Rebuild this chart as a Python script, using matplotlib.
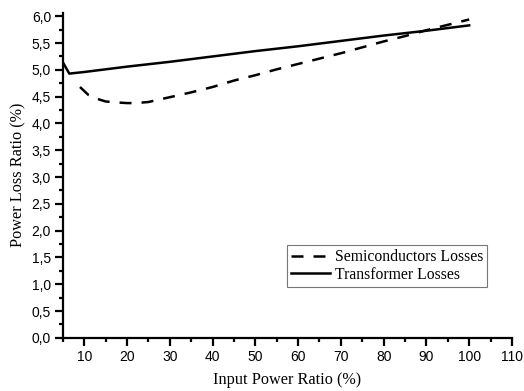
import matplotlib
matplotlib.use("Agg")
import matplotlib.pyplot as plt
from matplotlib.ticker import MultipleLocator, FuncFormatter

# --------------DATA--------------
semi_x = [9, 11, 13, 15, 18, 20, 22, 25, 30, 35, 40, 45, 50, 55, 60,
          65, 70, 75, 80, 85, 90, 95, 100]
semi_loss = [4.68, 4.53, 4.46, 4.41, 4.39, 4.38, 4.38, 4.40, 4.49, 4.58, 4.68,
             4.80, 4.90, 5.01, 5.11, 5.21, 5.31, 5.42, 5.53, 5.63, 5.74,
             5.84, 5.94]

trafo_x = [5, 6.5, 10, 20, 30, 40, 50, 60, 70, 80, 90, 100]
trafo_loss = [5.14, 4.93, 4.96, 5.06, 5.15, 5.25, 5.35, 5.44, 5.54, 5.64,
              5.73, 5.83]

serif = "Liberation Serif"
sans = "Liberation Sans"

fig = plt.figure(figsize=(5.24, 3.91), dpi=100)
ax = fig.add_axes([0.120, 0.136, 0.857, 0.832])

ax.plot(semi_x, semi_loss, color="black", lw=1.8, linestyle=(0, (4.8, 4)),
        label="Semiconductors Losses")
ax.plot(trafo_x, trafo_loss, color="black", lw=1.8, label="Transformer Losses")

ax.set_xlim(5, 110)
ax.set_ylim(0, 6.07)

ax.xaxis.set_major_locator(MultipleLocator(10))
ax.xaxis.set_minor_locator(MultipleLocator(5))
ax.yaxis.set_major_locator(MultipleLocator(0.5))
ax.yaxis.set_minor_locator(MultipleLocator(0.25))
ax.set_xticks(range(10, 111, 10))
ax.yaxis.set_major_formatter(FuncFormatter(lambda v, p: f"{v:.1f}".replace(".", ",")))

for s in ["top", "right"]:
    ax.spines[s].set_visible(False)
for s in ["left", "bottom"]:
    ax.spines[s].set_linewidth(1.6)

ax.tick_params(which="major", direction="out", length=5.5, width=1.6,
               labelsize=10, pad=3)
ax.tick_params(which="minor", direction="out", length=3, width=1.6)
for lab in ax.get_xticklabels() + ax.get_yticklabels():
    lab.set_fontfamily(sans)

ax.set_xlabel("Input Power Ratio (%)", fontsize=11.7, family=serif, labelpad=6)
ax.set_ylabel("Power Loss Ratio (%)", fontsize=11.7, family=serif, labelpad=4)

leg = ax.legend(loc="lower right", bbox_to_anchor=(0.944, 0.157),
                prop={"family": serif, "size": 11.3}, frameon=True, fancybox=False,
                handlelength=2.45, handletextpad=0.3, borderpad=0.25,
                labelspacing=0.1, borderaxespad=0)
leg.get_frame().set_edgecolor("#555555")
leg.get_frame().set_linewidth(0.8)

fig.savefig("out.png", dpi=100)
